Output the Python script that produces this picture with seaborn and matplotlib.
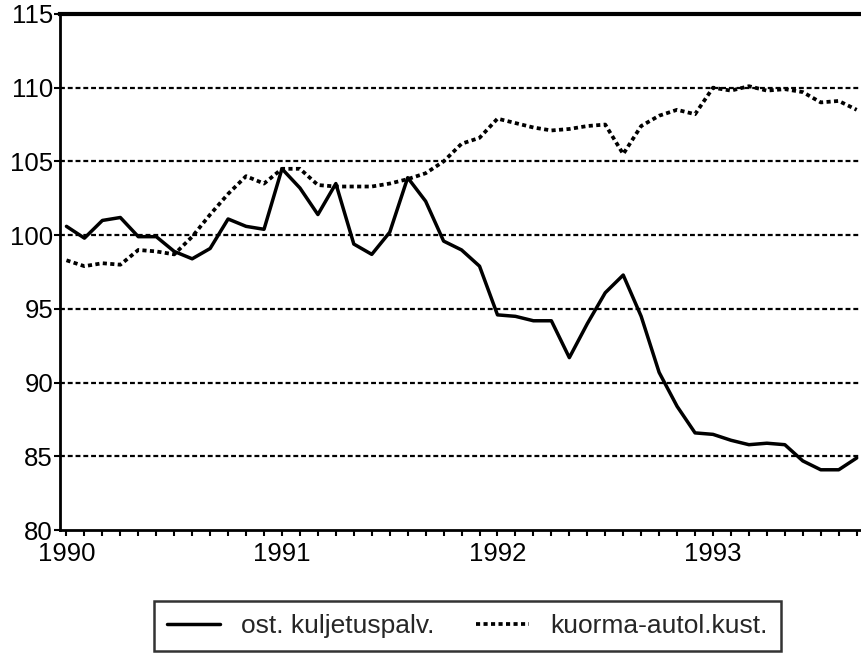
import numpy as np
import pandas as pd
import seaborn as sns
import matplotlib.pyplot as plt
from matplotlib.ticker import MultipleLocator, FixedLocator

# monthly index values, Jan 1990 - Sep 1993
months = 1990 + np.arange(45) / 12.0

ost_kuljetus = [100.6, 99.8, 101.0, 101.2, 99.9, 99.9, 98.9, 98.4, 99.1, 101.1, 100.6, 100.4,
                104.5, 103.2, 101.4, 103.5, 99.4, 98.7, 100.2, 103.9, 102.3, 99.6, 99.0, 97.9,
                94.6, 94.5, 94.2, 94.2, 91.7, 94.0, 96.1, 97.3, 94.5, 90.7, 88.4, 86.6,
                86.5, 86.1, 85.8, 85.9, 85.8, 84.7, 84.1, 84.1, 84.9]

kuorma_auto = [98.3, 97.9, 98.1, 98.0, 99.0, 98.9, 98.7, 99.9, 101.4, 102.8, 104.0, 103.5,
               104.5, 104.5, 103.4, 103.3, 103.3, 103.3, 103.5, 103.8, 104.2, 105.0, 106.2, 106.6,
               107.9, 107.6, 107.3, 107.1, 107.2, 107.4, 107.5, 105.5, 107.4, 108.1, 108.5, 108.2,
               110.0, 109.8, 110.1, 109.8, 109.9, 109.7, 109.0, 109.1, 108.5]

labels = ["ost. kuljetuspalv.", "kuorma-autol.kust."]
years = [1990, 1991, 1992, 1993]

df = pd.DataFrame({"t": months, labels[0]: ost_kuljetus, labels[1]: kuorma_auto})

sns.set_style("ticks")
plt.rcParams['font.family'] = ['Liberation Sans', 'DejaVu Sans']

fig = plt.figure(figsize=(8.62, 6.62), dpi=100)
ax = fig.add_axes([0.0696, 0.199, 0.9284, 0.780])

# horizontal dashed grid
for g in [85, 90, 95, 100, 105, 110]:
    ax.axhline(g, color='black', lw=1.6, ls=(0, (2.2, 1.3)), zorder=1)

sns.lineplot(data=df, x="t", y=labels[0], ax=ax, color='black', lw=2.5,
             label=labels[0], zorder=3)
sns.lineplot(data=df, x="t", y=labels[1], ax=ax, color='black', lw=2.7,
             ls=(0, (1.1, 0.9)), label=labels[1], zorder=3)

ax.set_xlim(1990 - 0.36 / 12, 1990 + 44.2 / 12)
ax.set_ylim(80, 115)
ax.yaxis.set_major_locator(MultipleLocator(5))
ax.xaxis.set_major_locator(FixedLocator(years))
ax.xaxis.set_minor_locator(FixedLocator(months))
ax.set_xticklabels([str(y) for y in years])
ax.set_xlabel("")
ax.set_ylabel("")

ax.tick_params(axis='both', labelsize=18.5, colors='black', width=1.5, length=4, pad=1)
ax.tick_params(axis='x', which='minor', length=4, width=1.5, color='black')
ax.tick_params(axis='x', which='major', pad=4.5)

for side in ['left', 'bottom', 'top']:
    ax.spines[side].set_color('black')
    ax.spines[side].set_linewidth(2)
ax.spines['top'].set_linewidth(3)
ax.spines['right'].set_visible(False)

ax.get_legend().remove()
handles, _ = ax.get_legend_handles_labels()
leg = fig.legend(handles, labels, loc='center', bbox_to_anchor=(0.542, 0.054), ncol=2,
                 fontsize=19, frameon=True, fancybox=False, edgecolor='black',
                 handlelength=2.0, handletextpad=0.8, columnspacing=1.6, borderpad=0.5)
leg.get_frame().set_linewidth(1.8)

fig.savefig("out.png", dpi=100)
